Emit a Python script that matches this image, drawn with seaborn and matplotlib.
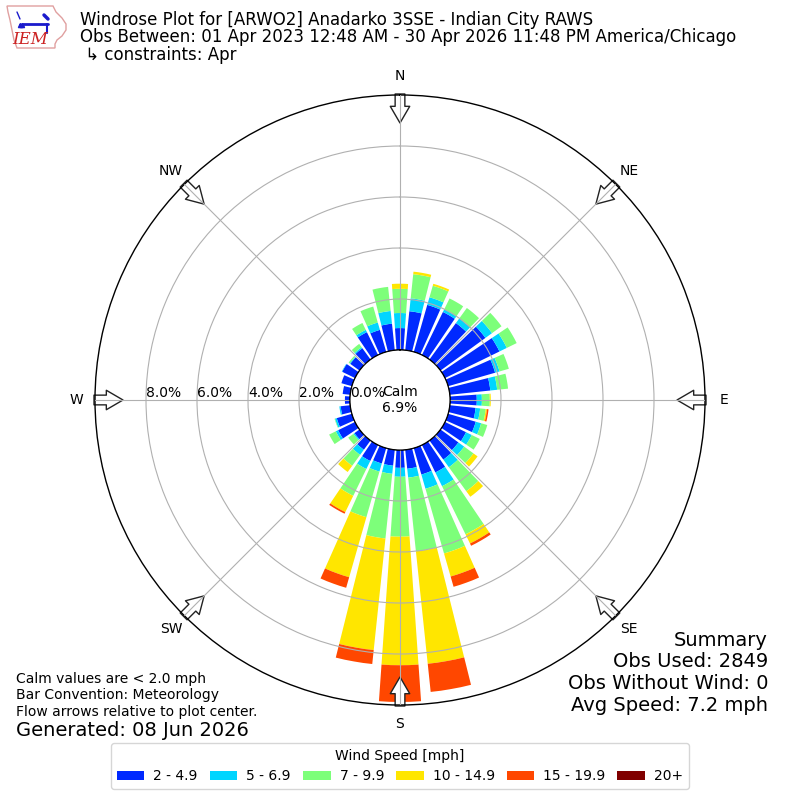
import numpy as np
import matplotlib
matplotlib.use("Agg")
import matplotlib.pyplot as plt
import seaborn as sns
from matplotlib.patches import Polygon, Patch

# ---------------- data (percent of observations) ----------------
directions = list(range(0, 360, 10))
speed_labels = ["2 - 4.9", "5 - 6.9", "7 - 9.9", "10 - 14.9", "15 - 19.9", "20+"]

pct_2_5 = [0.86, 1.54, 1.92, 1.88, 1.77, 2.18, 2.38, 1.92, 1.60, 1.05, 1.02, 1.13,
           0.92, 0.87, 0.93, 1.20, 1.08, 0.75, 0.70, 0.63, 0.63, 0.70, 0.45, 0.25,
           0.74, 0.62, 0.38, 0.20, 0.30, 0.43, 0.56, 0.45, 0.55, 1.00, 0.90, 1.05]
pct_5_7 = [0.59, 0.51, 0.31, 0.12, 0.23, 0.32, 0.32, 0.18, 0.27, 0.20, 0.18, 0.22,
           0.25, 0.28, 0.37, 0.60, 0.58, 0.35, 0.35, 0.32, 0.33, 0.35, 0.25, 0.05,
           0.10, 0.07, 0.05, 0.00, 0.00, 0.00, 0.02, 0.03, 0.05, 0.10, 0.30, 0.50]
pct_7_10 = [0.95, 0.95, 0.47, 0.47, 0.50, 0.46, 0.43, 0.38, 0.43, 0.31, 0.22, 0.25,
            0.35, 0.45, 1.16, 2.10, 2.64, 2.90, 2.35, 2.55, 1.86, 1.17, 0.53, 0.25,
            0.29, 0.02, 0.00, 0.00, 0.00, 0.00, 0.00, 0.05, 0.16, 0.30, 0.65, 0.95]
pct_10_15 = [0.20, 0.10, 0.08, 0.00, 0.00, 0.00, 0.00, 0.00, 0.00, 0.04, 0.05, 0.00,
             0.00, 0.20, 0.27, 0.40, 0.94, 4.44, 5.04, 4.40, 2.45, 0.71, 0.30, 0.00,
             0.00, 0.00, 0.00, 0.00, 0.00, 0.00, 0.00, 0.00, 0.00, 0.00, 0.00, 0.00]
pct_15_20 = [0.00, 0.00, 0.00, 0.00, 0.00, 0.00, 0.00, 0.00, 0.00, 0.00, 0.06, 0.00,
             0.00, 0.00, 0.00, 0.10, 0.42, 1.11, 1.44, 0.55, 0.43, 0.07, 0.00, 0.00,
             0.00, 0.00, 0.00, 0.00, 0.00, 0.00, 0.00, 0.00, 0.00, 0.00, 0.00, 0.00]
pct_20p = [0.0] * 36

calm_pct = 6.9
rticks = [0, 2, 4, 6, 8]
compass = ["N", "NE", "E", "SE", "S", "SW", "W", "NW"]

title_lines = ["Windrose Plot for [ARWO2] Anadarko 3SSE - Indian City RAWS",
               "Obs Between: 01 Apr 2023 12:48 AM - 30 Apr 2026 11:48 PM America/Chicago",
               " \u21b3 constraints: Apr"]
summary_lines = ["Summary", "Obs Used: 2849", "Obs Without Wind: 0", "Avg Speed: 7.2 mph"]
note_lines = ["Calm values are < 2.0 mph", "Bar Convention: Meteorology",
              "Flow arrows relative to plot center."]
generated = "Generated: 08 Jun 2026"

# ---------------- style ----------------
sns.set_style("white")
plt.rcParams.update({"text.color": "black", "xtick.color": "black",
                     "ytick.color": "black", "axes.edgecolor": "black"})
plt.rcParams["font.family"] = ["DejaVu Sans"]

cmap = plt.get_cmap("jet")
palette = sns.color_palette([cmap(v) for v in np.linspace(0, 1, 7)[1:]])

W = H = 800
fig = plt.figure(figsize=(8, 8), dpi=100)

R_PX = 305.0
CALM_PX = 50.0
RMAX = 10.0
rorig = RMAX * CALM_PX / (R_PX - CALM_PX)

ax = fig.add_axes([(400 - R_PX) / W, (400 - R_PX) / H, 2 * R_PX / W, 2 * R_PX / H],
                  projection="polar")
ax.set_theta_zero_location("N")
ax.set_theta_direction(-1)
ax.set_ylim(0, RMAX)
ax.set_rorigin(-rorig)

theta = np.deg2rad(directions)
width = np.deg2rad(8)
series = [pct_2_5, pct_5_7, pct_7_10, pct_10_15, pct_15_20, pct_20p]
bottom = np.zeros(len(directions))
for vals, col, lab in zip(series, palette, speed_labels):
    vals = np.asarray(vals)
    ax.bar(theta, vals, width=width, bottom=bottom, color=col, linewidth=0,
           label=lab, zorder=1)
    bottom = bottom + vals

ax.set_axisbelow(False)
ax.set_xticks(np.deg2rad(np.arange(0, 360, 45)))
ax.set_xticklabels([])
ax.set_yticks([2, 4, 6, 8])
ax.set_yticklabels([])
ax.grid(True, color="#b0b0b0", linewidth=0.8)
ax.spines["polar"].set_color("black")
ax.spines["polar"].set_linewidth(1.0)

# calm circle
tt = np.linspace(0, 2 * np.pi, 360)
ax.plot(tt, np.zeros_like(tt), color="black", linewidth=1.0, zorder=3)
ax.text(0.5, 0.5, "Calm\n%.1f%%" % calm_pct, transform=ax.transAxes,
        ha="center", va="center", fontsize=10, zorder=4)

# radial labels along W
for rv in rticks:
    ax.text(np.deg2rad(270), rv, "%.1f%%" % rv, ha="left", va="bottom",
            fontsize=10, zorder=4)

def px_to_r(px):
    return px / R_PX * (RMAX + rorig) - rorig

# compass labels and flow arrows
for i, lab in enumerate(compass):
    th = np.deg2rad(i * 45)
    ax.text(th, px_to_r(324), lab, ha="center", va="center", fontsize=10,
            clip_on=False)
    ax.annotate("", xy=(th, px_to_r(277)), xytext=(th, px_to_r(306)),
                arrowprops=dict(arrowstyle="simple,head_length=1.2,head_width=1.4,tail_width=0.7",
                                fc="white", ec="#222222", lw=1.0, mutation_scale=10,
                                shrinkA=0, shrinkB=0),
                annotation_clip=False, zorder=2)

# titles
for k, line in enumerate(title_lines):
    fig.text(80 / W, 1 - (20 + 17.5 * k) / H, line, ha="left", va="center", fontsize=12)

# summary
for k, line in enumerate(summary_lines):
    fig.text(768 / W, 1 - (640 + 21.7 * k) / H, line, ha="right", va="center", fontsize=14)

# notes
for k, line in enumerate(note_lines):
    fig.text(16 / W, 1 - (679 + 16.5 * k) / H, line, ha="left", va="center", fontsize=10)
fig.text(16 / W, 1 - 730 / H, generated, ha="left", va="center", fontsize=14)

# legend
handles = [Patch(facecolor=c, edgecolor="none") for c in palette]
fig.legend(handles, speed_labels, loc="center", bbox_to_anchor=(0.5, 1 - 766 / H),
           ncol=6, title="Wind Speed [mph]", fontsize=10, title_fontsize=10,
           handlelength=2.0, handleheight=0.65, handletextpad=0.65,
           columnspacing=0.85, frameon=True, fancybox=True, edgecolor="#cccccc",
           borderpad=0.4)

# IEM logo (simple drawing)
lax = fig.add_axes([5 / W, 1 - 52 / H, 62 / W, 49 / H])
lax.set_xlim(5, 67)
lax.set_ylim(52, 3)
lax.axis("off")
iowa = [(7, 6), (53, 6), (56, 12), (62, 18), (66, 24), (66, 30), (62, 36), (57, 40),
        (55, 44), (55, 48), (17, 48), (14, 40), (12, 30), (10, 20), (8, 12)]
lax.add_patch(Polygon(iowa, closed=True, fill=False, edgecolor="#e0a0a0", linewidth=1.0))
lax.plot([22, 48], [24, 24], color="#1a1acc", linewidth=2)
lax.plot([44, 48], [15, 19], color="#1a1acc", linewidth=2.5)
lax.plot([47, 47], [24, 33], color="#1a1acc", linewidth=1.5)
lax.plot([20, 22], [25, 25], color="#1a1acc", marker="^", markersize=3)
lax.plot([17, 20], [12, 19], color="#1a1acc", linewidth=1)
lax.text(30, 39, "IEM", color="#cc2222", fontsize=12, family="DejaVu Serif",
         style="italic", ha="center", va="center")

fig.savefig("out.png", dpi=100)
